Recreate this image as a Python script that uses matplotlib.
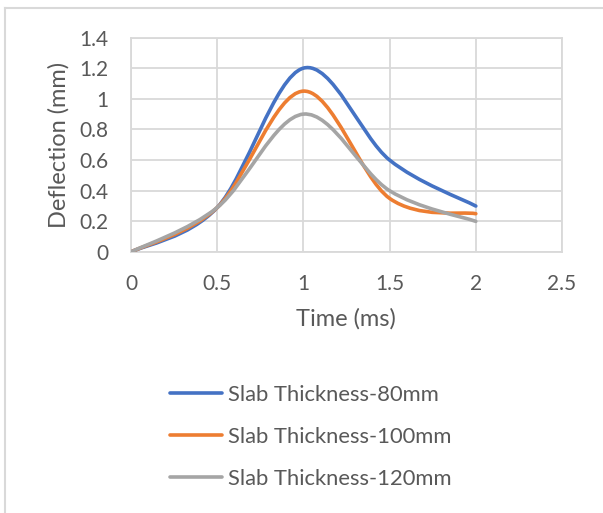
import matplotlib
matplotlib.use("Agg")
import matplotlib.pyplot as plt
from matplotlib.path import Path
from matplotlib.patches import PathPatch
from matplotlib.lines import Line2D

# ---- data ----
time_ms = [0, 0.5, 1.0, 1.5, 2.0]
slab_80 = [0, 0.29, 1.20, 0.60, 0.30]
slab_100 = [0, 0.29, 1.05, 0.35, 0.25]
slab_120 = [0, 0.29, 0.90, 0.40, 0.20]
series_labels = ["Slab Thickness-80mm", "Slab Thickness-100mm", "Slab Thickness-120mm"]
series_colors = ["#4472C4", "#ED7D31", "#A5A5A5"]
x_ticks = [0, 0.5, 1, 1.5, 2, 2.5]
x_tick_labels = ["0", "0.5", "1", "1.5", "2", "2.5"]
y_ticks = [0, 0.2, 0.4, 0.6, 0.8, 1.0, 1.2, 1.4]
y_tick_labels = ["0", "0.2", "0.4", "0.6", "0.8", "1", "1.2", "1.4"]

plt.rcParams['font.family'] = ['Lato', 'DejaVu Sans']

W, H = 603, 513
fig = plt.figure(figsize=(W / 100, H / 100), dpi=100)
ax = fig.add_axes([131 / W, 1 - 252 / H, (562 - 131) / W, (252 - 37.5) / H])


def smooth_path(xs, ys):
    """Excel-style smoothed line as cubic Bezier segments (Catmull-Rom control points)."""
    pts = list(zip(xs, ys))
    n = len(pts)
    verts = [pts[0]]
    codes = [Path.MOVETO]
    for i in range(n - 1):
        p0 = pts[i - 1] if i > 0 else pts[i]
        p1 = pts[i]
        p2 = pts[i + 1]
        p3 = pts[i + 2] if i + 2 < n else pts[i + 1]
        c1 = (p1[0] + (p2[0] - p0[0]) / 6, p1[1] + (p2[1] - p0[1]) / 6)
        c2 = (p2[0] - (p3[0] - p1[0]) / 6, p2[1] - (p3[1] - p1[1]) / 6)
        verts += [c1, c2, p2]
        codes += [Path.CURVE4] * 3
    return Path(verts, codes)


handles = []
for ys, lab, col in zip([slab_80, slab_100, slab_120], series_labels, series_colors):
    patch = PathPatch(smooth_path(time_ms, ys), facecolor="none", edgecolor=col,
                      linewidth=2.6, capstyle="round", joinstyle="round", zorder=3)
    ax.add_patch(patch)
    handles.append(Line2D([], [], color=col, linewidth=2.6, solid_capstyle="round", label=lab))

ax.set_xlim(0, 2.5)
ax.set_ylim(0, 1.4)
ax.set_xticks(x_ticks)
ax.set_xticklabels(x_tick_labels)
ax.set_yticks(y_ticks)
ax.set_yticklabels(y_tick_labels)
ax.grid(True, color="#D9D9D9", linewidth=1.3)
ax.set_axisbelow(True)
for s in ax.spines.values():
    s.set_color("#D9D9D9")
    s.set_linewidth(1.3)
ax.tick_params(length=0, labelsize=15, colors="#595959")
ax.tick_params(axis="y", pad=16)
ax.tick_params(axis="x", pad=16)

ax.set_xlabel("Time (ms)", fontsize=17, color="#595959")
ax.set_ylabel("Deflection (mm)", fontsize=17, color="#595959")
ax.xaxis.set_label_coords(0.499, -0.262)
ax.yaxis.set_label_coords(-0.143, 0.5)

leg = fig.legend(handles=handles, loc="center left",
                 bbox_to_anchor=(170 / W, 1 - 437 / H), frameon=False,
                 fontsize=15.8, handlelength=2.36, handletextpad=0.27,
                 labelspacing=1.0, labelcolor="#595959",
                 borderpad=0, borderaxespad=0)

# chart border (light grey), top and left visible
fig.add_artist(Line2D([4.5 / W, 4.5 / W], [0, 1 - 7.5 / H], transform=fig.transFigure,
                      color="#D9D9D9", linewidth=1.5))
fig.add_artist(Line2D([4.5 / W, 1], [1 - 7.5 / H, 1 - 7.5 / H], transform=fig.transFigure,
                      color="#D9D9D9", linewidth=1.5))

fig.savefig("out.png", dpi=100, facecolor="white")
